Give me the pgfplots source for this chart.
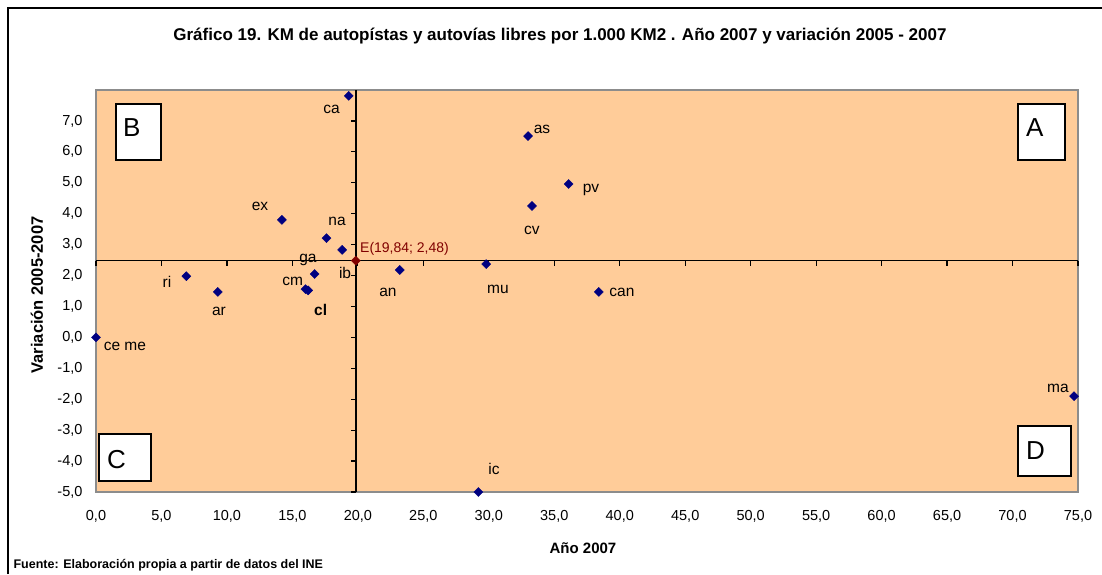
\documentclass[border=0pt]{standalone}
\usepackage{fontspec}
\setmainfont{Liberation Sans}
\usepackage{pgfplots}
\usepackage{pgfplotstable}
\pgfplotsset{compat=1.18}

\definecolor{fondo}{HTML}{FFCC99}
\definecolor{navy}{HTML}{000080}
\definecolor{granate}{HTML}{800000}

% comunidades: km en 2007 y variacion 2005-2007
\pgfplotstableread{
x y
19.3 7.81
33.0 6.51
36.1 4.96
33.3 4.25
14.2 3.80
17.6 3.21
18.8 2.83
16.7 2.05
16.0 1.56
16.2 1.52
23.2 2.18
29.8 2.37
6.9 1.98
9.3 1.47
38.4 1.47
0.0 0.0
74.7 -1.90
29.2 -5.00
}\datos

\newcommand{\fs}[1]{\fontsize{#1}{#1}\selectfont}

\begin{document}
\begin{tikzpicture}[x=1pt,y=1pt]
\useasboundingbox (0pt,0pt) rectangle (1102pt,574pt);
% marco exterior
\draw[line width=2pt] (8pt,0pt) -- (8pt,566pt) -- (1102pt,566pt);
\node[font=\fs{17}\bfseries] at (560pt,538pt)
  {Gráfico 19. KM de autopístas y autovías libres por 1.000 KM2 . Año 2007 y variación 2005 - 2007};

\begin{axis}[
    at={(96pt,82pt)}, anchor=south west,
    scale only axis,
    width=982pt, height=402pt,
    xmin=0, xmax=75, ymin=-5, ymax=8,
    xtick={0,5,...,75}, ytick={-5,-4,...,7},
    major tick length=0pt,
    axis background/.style={fill=fondo},
    axis line style={draw=gray!90, line width=1.5pt},
    tick label style={font=\fs{14.5}},
    xticklabel style={yshift=-15pt},
    yticklabel style={xshift=-10pt},
    /pgf/number format/.cd, fixed, fixed zerofill, precision=1, use comma, assume math mode=true,
    /pgfplots/.cd,
    clip=false,
]
% ejes cruzados en E
\draw[line width=1.5pt] (axis cs:19.84,-5) -- (axis cs:19.84,8);
\draw[line width=1.5pt] (axis cs:0,2.48) -- (axis cs:75,2.48);
\pgfplotsinvokeforeach{-5,-4,...,7}{\draw[line width=1.2pt] (axis cs:19.84,#1) -- ([xshift=-5pt]axis cs:19.84,#1);}
\pgfplotsinvokeforeach{0,5,...,75}{\draw[line width=1.2pt] (axis cs:#1,2.48) -- ([yshift=-5pt]axis cs:#1,2.48);}

\addplot[only marks, mark=square*, mark size=3.2pt, color=navy,
  mark options={rotate=45}] table {\datos};
\addplot[only marks, mark=square*, mark size=3.2pt, color=granate,
  mark options={rotate=45}] coordinates {(19.84,2.48)};

\begin{scope}[font=\fs{15.5}]
\node at (axis cs:18.00,7.38) {ca};
\node at (axis cs:34.06,6.74) {as};
\node at (axis cs:37.81,4.77) {pv};
\node at (axis cs:33.28,3.47) {cv};
\node at (axis cs:12.53,4.25) {ex};
\node at (axis cs:18.41,3.74) {na};
\node at (axis cs:16.19,2.50) {ga};
\node at (axis cs:19.02,2.08) {ib};
\node at (axis cs:15.02,1.80) {cm};
\node[font=\fs{15.5}\bfseries] at (axis cs:17.16,0.89) {cl};
\node at (axis cs:22.30,1.44) {an};
\node at (axis cs:30.70,1.55) {mu};
\node at (axis cs:5.42,1.80) {ri};
\node at (axis cs:9.39,0.85) {ar};
\node at (axis cs:40.17,1.45) {can};
\node at (axis cs:2.21,-0.30) {ce me};
\node at (axis cs:73.47,-1.64) {ma};
\node at (axis cs:30.40,-4.26) {ic};
\end{scope}
\node[anchor=west, inner sep=0pt, text=granate, font=\fs{14}] at (axis cs:20.16,2.85) {E(19,84; 2,48)};
\end{axis}

% titulos de ejes
\node[font=\fs{15}\bfseries] at (583pt,26pt) {Año 2007};
\node[font=\fs{16.5}\bfseries, rotate=90] at (37pt,279pt) {Variación 2005-2007};

% cuadrantes
\begin{scope}[line width=1.5pt]
\draw[fill=white] (116pt,414pt) rectangle (161pt,470pt);
\node[anchor=west, font=\fs{26}] at (119pt,446pt) {B};
\draw[fill=white] (1018pt,414pt) rectangle (1065pt,470pt);
\node[anchor=west, font=\fs{26}] at (1022pt,446pt) {A};
\draw[fill=white] (99pt,93pt) rectangle (151pt,140pt);
\node[anchor=west, font=\fs{26}] at (103pt,114pt) {C};
\draw[fill=white] (1018pt,98pt) rectangle (1071pt,148pt);
\node[anchor=west, font=\fs{26}] at (1022pt,123pt) {D};
\end{scope}

\node[anchor=west, font=\fs{12.5}\bfseries] at (10pt,9pt) {Fuente: Elaboración propia a partir de datos del INE};
\end{tikzpicture}
\end{document}
